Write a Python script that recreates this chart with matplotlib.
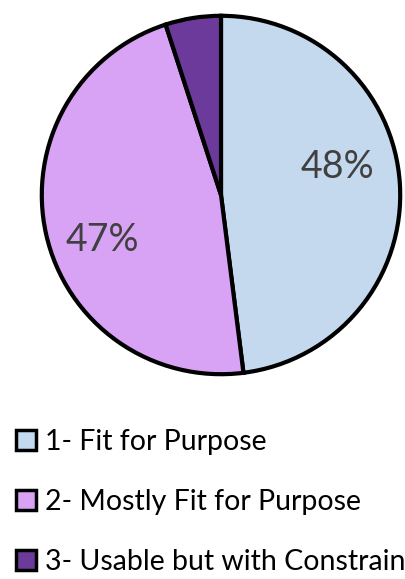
import matplotlib.pyplot as plt
from matplotlib.patches import Patch

labels = ['1- Fit for Purpose', '2- Mostly Fit for Purpose', '3- Usable but with Constraints']
shares = [48, 47, 5]
colors = ['#C5D9EE', '#D8A3F5', '#6C3A9A']

plt.rcParams['font.family'] = ['Lato', 'DejaVu Sans']

fig = plt.figure(figsize=(4.05, 5.79), dpi=100)
ax = fig.add_axes([40/405, 1 - 376/579, 362/405, 362/579])

wedges, texts = ax.pie(shares, colors=colors, startangle=90, counterclock=False,
                       wedgeprops=dict(edgecolor='black', linewidth=3))
ax.set_xlim(-1.01, 1.01)
ax.set_ylim(-1.01, 1.01)
ax.set_aspect('equal')

# percentage labels on the two big slices only
pos = {0: (0.65, 0.155), 1: (-0.66, -0.25)}
for i, (x, y) in pos.items():
    ax.text(x, y, f'{shares[i]}%', ha='center', va='center', fontsize=27, color='#404040')

handles = [Patch(facecolor=c, edgecolor='black', linewidth=2.5) for c in colors]
leg = fig.legend(handles, labels, loc='upper left', bbox_to_anchor=(0.04, 1 - 429/579),
                 frameon=False, fontsize=20.5, handlelength=0.7, handleheight=0.7,
                 handletextpad=0.3, labelspacing=1.2, borderaxespad=0, borderpad=0)

fig.savefig('out.png', dpi=100)
